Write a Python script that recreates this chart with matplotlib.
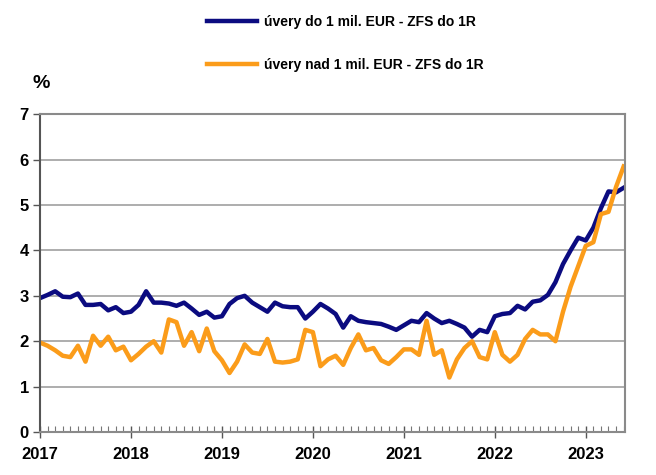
import matplotlib.pyplot as plt
import numpy as np

plt.rcParams['font.family'] = ['Liberation Sans', 'DejaVu Sans']

# monthly data, Jan 2017 .. Jun 2023
small_loans = [
    2.95, 3.02, 3.10, 2.98, 2.97, 3.05, 2.80, 2.80, 2.82, 2.68, 2.75, 2.62,
    2.65, 2.80, 3.10, 2.85, 2.85, 2.83, 2.78, 2.85, 2.72, 2.58, 2.65, 2.52,
    2.55, 2.82, 2.95, 3.00, 2.85, 2.75, 2.65, 2.85, 2.77, 2.75, 2.75, 2.50,
    2.65, 2.82, 2.72, 2.60, 2.30, 2.55, 2.45, 2.42, 2.40, 2.38, 2.32, 2.25,
    2.35, 2.45, 2.42, 2.62, 2.50, 2.40, 2.45, 2.38, 2.30, 2.10, 2.25, 2.20,
    2.55, 2.60, 2.62, 2.78, 2.70, 2.87, 2.90, 3.02, 3.30, 3.70, 4.00, 4.28,
    4.22, 4.50, 4.93, 5.30, 5.28, 5.38,
]
large_loans = [
    1.97, 1.90, 1.80, 1.68, 1.65, 1.90, 1.55, 2.12, 1.90, 2.10, 1.80, 1.88,
    1.58, 1.72, 1.88, 2.00, 1.75, 2.48, 2.42, 1.90, 2.20, 1.78, 2.28, 1.78,
    1.58, 1.30, 1.55, 1.93, 1.75, 1.72, 2.05, 1.55, 1.53, 1.55, 1.60, 2.25,
    2.20, 1.45, 1.60, 1.68, 1.48, 1.85, 2.15, 1.80, 1.85, 1.58, 1.50, 1.65,
    1.82, 1.82, 1.70, 2.45, 1.70, 1.80, 1.20, 1.60, 1.85, 2.00, 1.65, 1.60,
    2.20, 1.70, 1.55, 1.70, 2.05, 2.25, 2.15, 2.15, 2.00, 2.65, 3.20, 3.65,
    4.10, 4.18, 4.80, 4.85, 5.40, 5.85,
]
years = ['2017', '2018', '2019', '2020', '2021', '2022', '2023']
labels = ['úvery do 1 mil. EUR - ZFS do 1R', 'úvery nad 1 mil. EUR - ZFS do 1R']

months = np.arange(len(small_loans))

fig = plt.figure(figsize=(6.56, 4.75), dpi=100)
ax = fig.add_axes([0.061, 0.0905, 0.892, 0.669])

ax.plot(months, small_loans, color='#0b0b80', lw=3.2, label=labels[0],
        solid_joinstyle='round')
ax.plot(months, large_loans, color='#fb9c1a', lw=3.2, label=labels[1],
        solid_joinstyle='round')

ax.set_xlim(0, 77.2)
ax.set_ylim(0, 7)
ax.set_yticks(range(8))
ax.set_yticklabels([str(i) for i in range(8)], fontsize=12, fontweight='bold')
ax.set_xticks(np.arange(len(years)) * 12)
ax.set_xticklabels(years, fontsize=12, fontweight='bold')
ax.set_xticks(np.arange(0, 78), minor=True)

ax.grid(axis='y', color='#a0a0a0', lw=1.2)
ax.set_axisbelow(True)
for s in ax.spines.values():
    s.set_color('#8a8a8a')
    s.set_linewidth(1.5)
ax.spines['left'].set_color('#555555')

ax.tick_params(axis='x', which='major', direction='inout', length=9, width=1,
               color='#555555', pad=6)
ax.tick_params(axis='x', which='minor', direction='in', length=4, width=0.8,
               color='#777777')
ax.tick_params(axis='y', direction='out', length=5, width=1, color='#555555', pad=3)

fig.text(0.05, 0.815, '%', fontsize=14, fontweight='bold')

fig.legend(loc='upper left', bbox_to_anchor=(0.297, 0.995), frameon=False,
           prop={'size': 10, 'weight': 'bold'}, labelspacing=2.1,
           handlelength=3.6, handletextpad=0.5)

fig.savefig('out.png', dpi=100)
